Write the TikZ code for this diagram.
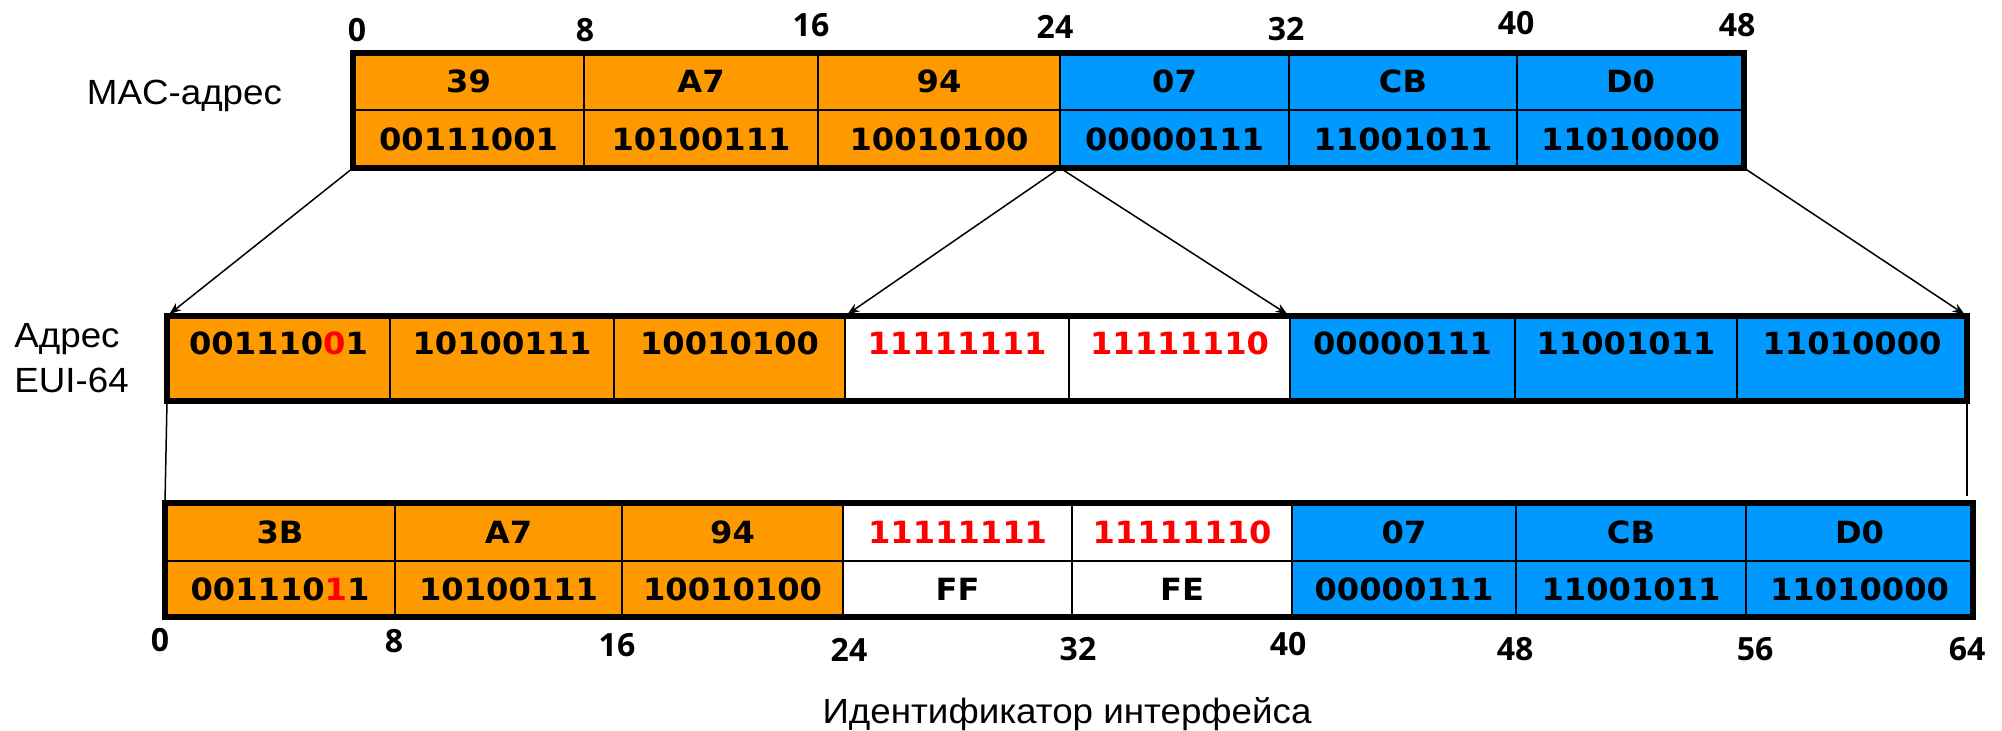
\documentclass[tikz,border=0pt]{standalone}
\usepackage{fontspec}
\setmainfont[FakeStretch=1.05]{Liberation Sans}
\newfontfamily\cellfont[FakeStretch=1.05]{DejaVu Sans}
\newfontfamily\numfont{Open Sans}
\usetikzlibrary{arrows.meta}
\definecolor{orng}{RGB}{255,153,0}
\definecolor{blu}{RGB}{0,153,255}
\definecolor{redbit}{RGB}{255,0,0}
\newcommand\mkcell[7]{%
  \pgfmathsetmacro\cellw{(#3-#2)*0.5}%
  \pgfmathsetmacro\cellh{(#5-#4)*0.5}%
  \node[cellbox, fill=#6, minimum width=\cellw pt, minimum height=\cellh pt] (#1) at ({(#2+#3)/2},{(#4+#5)/2}) {#7};%
}
\newcommand\rbit[1]{\textcolor{redbit}{#1}}
\begin{document}
\begin{tikzpicture}[x=0.5pt,y=-0.5pt,
  cellbox/.style={draw=black, line width=1pt, outer sep=0pt, inner sep=0pt,
    font=\cellfont\bfseries\fontsize{15.3}{18}\selectfont},
  celltext/.style={inner sep=0pt, font=\cellfont\bfseries\fontsize{15.3}{18}\selectfont},
  frame/.style={draw=black, line width=2.9pt},
  bitnum/.style={inner sep=0pt, font=\numfont\bfseries\fontsize{16}{19}\selectfont},
  lbl/.style={inner sep=0pt, font=\fontsize{17.5}{22.5}\selectfont},
  conn/.style={draw=black, line width=0.75pt, shorten >=1.5pt, -{Stealth[length=6pt,width=4.5pt]}},
  link/.style={draw=black, line width=0.75pt}]
\useasboundingbox (0,0) rectangle (2002,731);

% ---------- MAC address ----------
\mkcell{mh1}{353}{584}{53}{110}{orng}{39}
\mkcell{mh2}{584}{818}{53}{110}{orng}{A7}
\mkcell{mh3}{818}{1060}{53}{110}{orng}{94}
\mkcell{mh4}{1060}{1289}{53}{110}{blu}{07}
\mkcell{mh5}{1289}{1517}{53}{110}{blu}{CB}
\mkcell{mh6}{1517}{1744}{53}{110}{blu}{D0}
\mkcell{mb1}{353}{584}{110}{168}{orng}{00111001}
\mkcell{mb2}{584}{818}{110}{168}{orng}{10100111}
\mkcell{mb3}{818}{1060}{110}{168}{orng}{10010100}
\mkcell{mb4}{1060}{1289}{110}{168}{blu}{00000111}
\mkcell{mb5}{1289}{1517}{110}{168}{blu}{11001011}
\mkcell{mb6}{1517}{1744}{110}{168}{blu}{11010000}
\draw[frame] (mh1.north west) rectangle (mb6.south east);

% ---------- EUI-64 ----------
\mkcell{e1}{167}{390}{316}{401}{orng}{}
\mkcell{e2}{390}{614}{316}{401}{orng}{}
\mkcell{e3}{614}{845}{316}{401}{orng}{}
\mkcell{e4}{845}{1069}{316}{401}{white}{}
\mkcell{e5}{1069}{1290}{316}{401}{white}{}
\mkcell{e6}{1290}{1515}{316}{401}{blu}{}
\mkcell{e7}{1515}{1737}{316}{401}{blu}{}
\mkcell{e8}{1737}{1967}{316}{401}{blu}{}
\draw[frame] (e1.north west) rectangle (e8.south east);
\node[celltext] (et1) at (278.5,343) {001110\rbit{0}1};
\node[celltext] (et2) at (502,343) {10100111};
\node[celltext] (et3) at (729.5,343) {10010100};
\node[celltext, text=redbit] (et4) at (957,343) {11111111};
\node[celltext, text=redbit] (et5) at (1179.5,343) {11111110};
\node[celltext] (et6) at (1402.5,343) {00000111};
\node[celltext] (et7) at (1626,343) {11001011};
\node[celltext] (et8) at (1852,343) {11010000};

% ---------- Interface ID ----------
\mkcell{bh1}{165}{395}{503}{561}{orng}{3B}
\mkcell{bh2}{395}{622}{503}{561}{orng}{A7}
\mkcell{bh3}{622}{843}{503}{561}{orng}{94}
\mkcell{bh4}{843}{1072}{503}{561}{white}{\rbit{11111111}}
\mkcell{bh5}{1072}{1292}{503}{561}{white}{\rbit{11111110}}
\mkcell{bh6}{1292}{1516}{503}{561}{blu}{07}
\mkcell{bh7}{1516}{1746}{503}{561}{blu}{CB}
\mkcell{bh8}{1746}{1973}{503}{561}{blu}{D0}
\mkcell{bb1}{165}{395}{561}{617}{orng}{001110\rbit{1}1}
\mkcell{bb2}{395}{622}{561}{617}{orng}{10100111}
\mkcell{bb3}{622}{843}{561}{617}{orng}{10010100}
\mkcell{bb4}{843}{1072}{561}{617}{white}{FF}
\mkcell{bb5}{1072}{1292}{561}{617}{white}{FE}
\mkcell{bb6}{1292}{1516}{561}{617}{blu}{00000111}
\mkcell{bb7}{1516}{1746}{561}{617}{blu}{11001011}
\mkcell{bb8}{1746}{1973}{561}{617}{blu}{11010000}
\draw[frame] (bh1.north west) rectangle (bb8.south east);

% ---------- connectors ----------
\draw[conn] (mb1.south west) -- (e1.north west);
\draw[conn] (mb3.south east) -- (e3.north east);
\draw[conn] (mb3.south east) -- (e5.north east);
\draw[conn] (mb6.south east) -- (e8.north east);
\coordinate (rend) at (1967,496);
\draw[link] (e1.south west) -- (bh1.north west);
\draw[link] (e8.south east) -- (rend);

% ---------- bit numbers ----------
\node[bitnum] (t0) at (357,30) {0};
\node[bitnum] (t8) at (585,30) {8};
\node[bitnum] (t16) at (811,25) {16};
\node[bitnum] (t24) at (1055,27) {24};
\node[bitnum] (t32) at (1286,29) {32};
\node[bitnum] (t40) at (1516,23) {40};
\node[bitnum] (t48) at (1737,25) {48};
\node[bitnum] (b0) at (160,640) {0};
\node[bitnum] (b8) at (394,641) {8};
\node[bitnum] (b16) at (617,645) {16};
\node[bitnum] (b24) at (849,650) {24};
\node[bitnum] (b32) at (1078,649) {32};
\node[bitnum] (b40) at (1288,644) {40};
\node[bitnum] (b48) at (1515,649) {48};
\node[bitnum] (b56) at (1755,649) {56};
\node[bitnum] (b64) at (1967,649) {64};

% ---------- labels ----------
\node[lbl, anchor=base] (maclbl) at (184.5,105) {MAC-адрес};
\node[lbl, anchor=base west] (euilbl1) at (14,348) {Адрес};
\node[lbl, anchor=base west] (euilbl2) at (14,393) {EUI-64};
\node[lbl, anchor=base] (idlbl) at (1067,723) {Идентификатор интерфейса};
\end{tikzpicture}
\end{document}
